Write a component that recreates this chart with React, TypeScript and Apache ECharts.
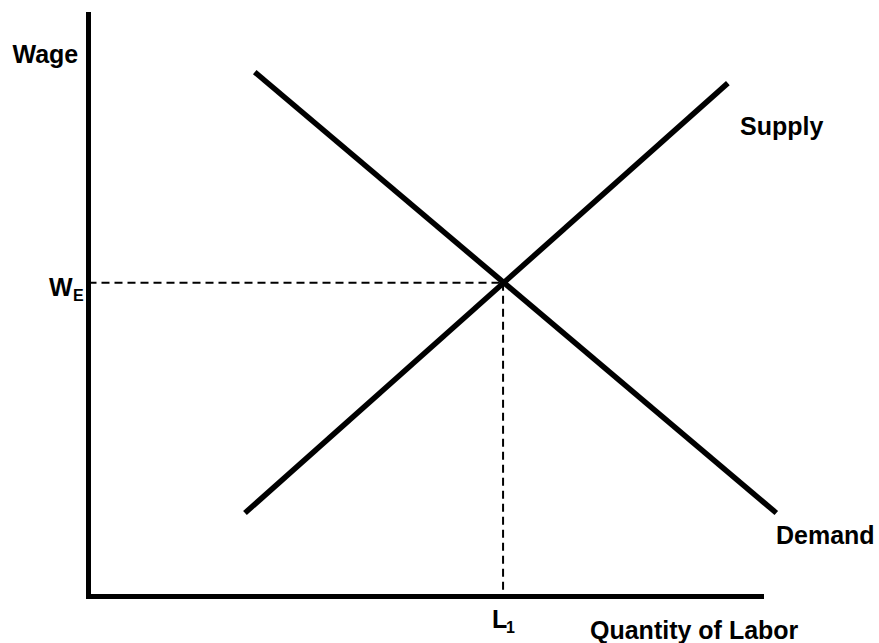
import React, { useEffect, useRef } from "react";
import * as echarts from "echarts";

// Curve end points in axis units (x: quantity of labor, y: wage; axes span 0-100)
const supplyPoints: [number, number][] = [
  [23.25, 14.35],
  [95.0, 88.2],
];
const demandPoints: [number, number][] = [
  [24.7, 90.1],
  [102.2, 14.35],
];
const equilibriumQuantity = 61.6;
const equilibriumWage = 53.9;
const wageGuide: [number, number][] = [
  [0, equilibriumWage],
  [equilibriumQuantity, equilibriumWage],
];
const quantityGuide: [number, number][] = [
  [equilibriumQuantity, equilibriumWage],
  [equilibriumQuantity, 0],
];
const curveNames = ["Supply", "Demand"];
const axisTitles = ["Quantity of Labor", "Wage"];
const equilibriumLabels = [
  ["W", "E"],
  ["L", "1"],
];
const axisMax = 100;
const plotMax = 104;

export default function App() {
  const ref = useRef<HTMLDivElement>(null);

  useEffect(() => {
    if (!ref.current) return;
    const chart = echarts.init(ref.current, null, { renderer: "svg" });
    const family = "'Liberation Sans', Arial, Helvetica, sans-serif";
    const big = `bold 25px ${family}`;
    const small = `bold 16px ${family}`;
    const left = 88.5;
    const axisRightPx = 761.5;
    const unit = (axisRightPx - left) / axisMax;
    const plotRightPx = left + unit * plotMax;
    const axisVisible = {
      type: "value",
      min: 0,
      max: axisMax,
      axisLine: {
        show: true,
        onZero: false,
        lineStyle: { color: "#000", width: 5, cap: "square" },
      },
      axisTick: { show: false },
      axisLabel: { show: false },
      splitLine: { show: false },
    };
    const axisHidden = {
      type: "value",
      min: 0,
      axisLine: { show: false },
      axisTick: { show: false },
      axisLabel: { show: false },
      splitLine: { show: false },
    };
    const lineSeries = (data: [number, number][], width: number, dashed: boolean) => ({
      type: "line",
      xAxisIndex: 1,
      yAxisIndex: 1,
      data,
      symbol: "none",
      clip: false,
      z: dashed ? 1 : 3,
      lineStyle: dashed
        ? { color: "#000", width, type: [8, 5] }
        : { color: "#000", width, cap: "butt" },
    });
    chart.setOption({
      animation: false,
      backgroundColor: "#ffffff",
      grid: [
        { left, right: 879 - axisRightPx, top: 14.5, bottom: 46.5 },
        { left, right: 879 - plotRightPx, top: 14.5, bottom: 46.5 },
      ],
      xAxis: [
        { ...axisVisible, gridIndex: 0 },
        { ...axisHidden, gridIndex: 1, max: plotMax },
      ],
      yAxis: [
        { ...axisVisible, gridIndex: 0 },
        { ...axisHidden, gridIndex: 1, max: axisMax },
      ],
      series: [
        { name: curveNames[0], ...lineSeries(supplyPoints, 5.5, false) },
        { name: curveNames[1], ...lineSeries(demandPoints, 5.5, false) },
        lineSeries(wageGuide, 2, true),
        lineSeries(quantityGuide, 2, true),
      ],
    });

    const wy = (chart.convertToPixel({ gridIndex: 1 }, [0, equilibriumWage]) as number[])[1];
    const lx = (chart.convertToPixel({ gridIndex: 1 }, [equilibriumQuantity, 0]) as number[])[0];

    const txt = (text: string, x: number, y: number, font: string) => ({
      type: "text",
      x,
      y,
      style: {
        text,
        font,
        fill: "#000",
        textAlign: "left",
        align: "left",
        textVerticalAlign: "middle",
        verticalAlign: "middle",
      },
    });

    chart.setOption({
      graphic: [
        txt(axisTitles[1], 12.5, 54, big),
        txt(axisTitles[0], 590, 630, big),
        txt(curveNames[0], 740, 126, big),
        txt(curveNames[1], 776, 535, big),
        txt(equilibriumLabels[0][0], 49, wy + 4.5, big),
        txt(equilibriumLabels[0][1], 73, wy + 12.5, small),
        txt(equilibriumLabels[1][0], lx - 11, 618.5, big),
        txt(equilibriumLabels[1][1], lx + 3, 627, small),
      ],
    });

    return () => chart.dispose();
  }, []);

  return (
    <div
      ref={ref}
      style={{ position: "fixed", left: 0, top: 0, width: 879, height: 643 }}
    />
  );
}
